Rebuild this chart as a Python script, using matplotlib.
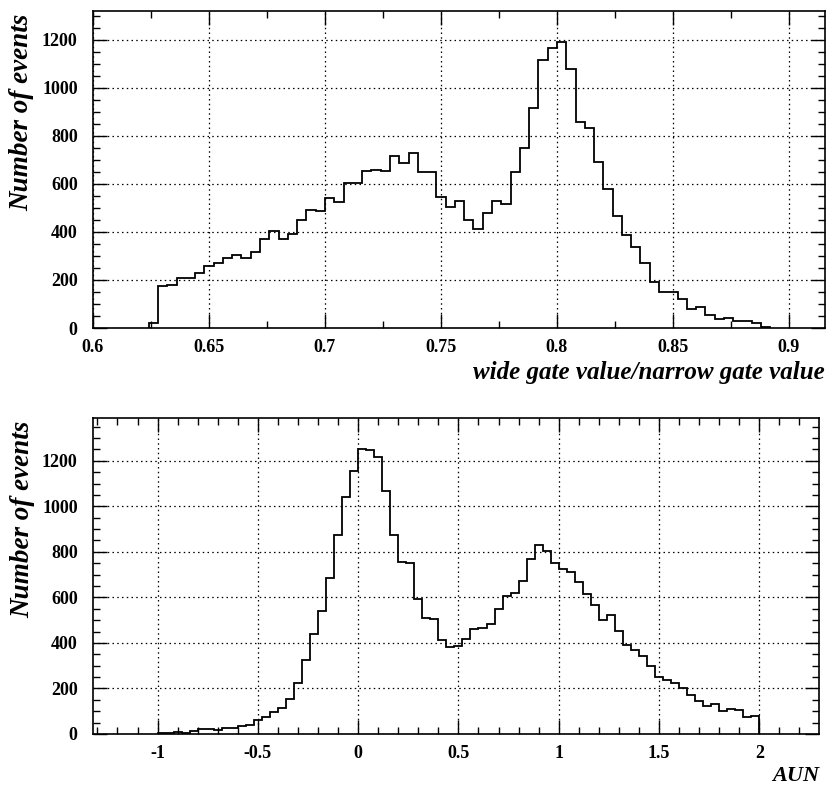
import numpy as np
import matplotlib
matplotlib.use("Agg")
from matplotlib import pyplot as plt
from matplotlib.ticker import MultipleLocator

# top: ratio of wide to narrow gate, bins of 0.004 starting at 0.624
ratio_start = 0.624
ratio_width = 0.004
ratio_counts = [20, 175, 180, 210, 210, 228, 258, 272, 290, 302,
                290, 315, 370, 405, 370, 392, 448, 492, 488, 542,
                525, 605, 605, 655, 657, 652, 716, 686, 729, 651,
                648, 546, 505, 530, 449, 414, 479, 530, 518, 648,
                751, 918, 1115, 1167, 1190, 1078, 856, 832, 693, 580,
                466, 386, 337, 269, 190, 152, 152, 122, 80, 87,
                56, 36, 43, 29, 29, 19, 4]

# bottom: AUN, bins of 0.04 from -1 to 2
aun_start = -1.0
aun_width = 0.04
aun_counts = [6, 3, 7, 5, 15, 20, 24, 18, 25, 28,
              33, 38, 62, 73, 96, 113, 154, 224, 324, 441,
              538, 687, 875, 1040, 1153,
              1252, 1246, 1218, 1067, 872, 757, 749, 594, 510, 507,
              414, 384, 387, 417, 461, 465, 483, 550, 606, 621,
              672, 768, 830, 805, 749, 726, 710, 667, 613, 566,
              499, 522, 452, 390, 368, 342, 298, 251, 236, 222,
              200, 169, 147, 122, 133, 100, 111, 104, 75, 78]

ratio_ticks = [0.6, 0.65, 0.7, 0.75, 0.8, 0.85, 0.9]
ratio_ticklabels = ["0.6", "0.65", "0.7", "0.75", "0.8", "0.85", "0.9"]
aun_ticks = [-1, -0.5, 0, 0.5, 1, 1.5, 2]
aun_ticklabels = ["-1", "-0.5", "0", "0.5", "1", "1.5", "2"]
count_ticks = [0, 200, 400, 600, 800, 1000, 1200]

plt.rcParams["font.family"] = ["Liberation Serif", "DejaVu Serif"]
plt.rcParams["font.weight"] = "bold"
plt.rcParams["axes.unicode_minus"] = False

fig = plt.figure(figsize=(8.28, 7.91), dpi=100)
ax1 = fig.add_axes([0.1123, 0.5853, 0.884, 0.4008])
ax2 = fig.add_axes([0.1123, 0.0721, 0.8768, 0.3995])

LABEL_FONT = dict(fontweight="bold", fontstyle="italic")


def style(ax, xticks, xlabels, xminor):
    ax.set_xticks(xticks)
    ax.set_xticklabels(xlabels)
    ax.set_yticks(count_ticks)
    ax.xaxis.set_minor_locator(MultipleLocator(xminor))
    ax.yaxis.set_minor_locator(MultipleLocator(50))
    ax.tick_params(which="both", direction="in", top=True, right=True,
                   labelsize=13, width=1.0, color="black")
    ax.tick_params(which="major", length=10)
    ax.tick_params(which="minor", length=5)
    ax.tick_params(axis="x", pad=8)
    ax.tick_params(axis="y", pad=11)
    for lab in ax.get_xticklabels() + ax.get_yticklabels():
        lab.set_fontweight("bold")
    ax.grid(True, which="major", color="black", linestyle=(0, (1.2, 2.6)),
            linewidth=0.9)
    for spine in ax.spines.values():
        spine.set_linewidth(1.2)
    ax.set_ylabel("Number of events", fontsize=19.5, **LABEL_FONT)
    ax.yaxis.set_label_coords(-0.097, 0.68)
    ax.yaxis.label.set_va("center")


ratio_edges = ratio_start + ratio_width * np.arange(len(ratio_counts) + 1)
ax1.stairs(ratio_counts, ratio_edges, baseline=0, color="black", linewidth=1.3)
ax1.set_xlim(0.6, 0.9155)
ax1.set_ylim(0, 1320)
style(ax1, ratio_ticks, ratio_ticklabels, 0.025)
ax1.set_xlabel("wide gate value/narrow gate value", ha="right", va="top",
               fontsize=18, **LABEL_FONT)
ax1.xaxis.set_label_coords(1.0, -0.105)

aun_edges = aun_start + aun_width * np.arange(len(aun_counts) + 1)
ax2.stairs(aun_counts, aun_edges, baseline=0, color="black", linewidth=1.3)
ax2.set_xlim(-1.322, 2.2975)
ax2.set_ylim(0, 1388)
style(ax2, aun_ticks, aun_ticklabels, 0.1)
ax2.set_xlabel("AUN", ha="right", va="top", fontsize=16, **LABEL_FONT)
ax2.xaxis.set_label_coords(1.0, -0.1)

fig.savefig("out.png", dpi=100)
